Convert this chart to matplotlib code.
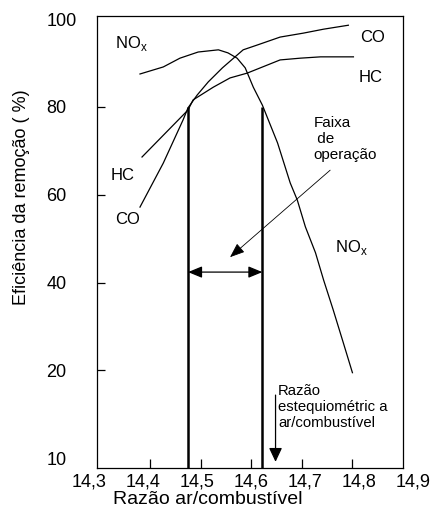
import matplotlib
matplotlib.use("Agg")
import matplotlib.pyplot as plt
from matplotlib.transforms import ScaledTranslation

plt.rcParams['font.family'] = ['Liberation Sans', 'DejaVu Sans']

# curves
nox_x = [14.380, 14.426, 14.459, 14.495, 14.535, 14.554, 14.572, 14.588, 14.604,
         14.622, 14.652, 14.677, 14.691, 14.707, 14.727, 14.743, 14.762, 14.782, 14.800]
nox_y = [87.5, 89.1, 91.1, 92.5, 93.0, 92.3, 91.1, 88.9, 84.5,
         80.4, 71.8, 62.7, 58.8, 52.7, 46.8, 40.6, 33.8, 26.3, 19.5]

co_x = [14.380, 14.426, 14.465, 14.475, 14.493, 14.515, 14.543, 14.568, 14.584,
        14.612, 14.657, 14.703, 14.743, 14.792]
co_y = [57.2, 67.2, 77.0, 79.8, 82.7, 85.7, 88.9, 91.4, 93.0,
        94.1, 95.9, 96.8, 97.7, 98.6]

hc_x = [14.384, 14.475, 14.485, 14.525, 14.558, 14.592, 14.657, 14.697, 14.737, 14.802]
hc_y = [68.6, 79.3, 81.6, 84.5, 86.6, 87.7, 90.7, 91.1, 91.4, 91.4]

# operating window limits and stoichiometric ratio
faixa_min = 14.475
faixa_max = 14.622
faixa_top = 80
faixa_arrow_y = 42.4
estequio = 14.648

x_ticks = [14.3, 14.4, 14.5, 14.6, 14.7, 14.8, 14.9]
x_labels = ['14,3', '14,4', '14,5', '14,6', '14,7', '14,8', '14,9']
# the axis is broken at the bottom: "10" sits just under the 20 step
y_ticks = [0, 20, 40, 60, 80, 100]
y_labels = ['10', '20', '40', '60', '80', '100']

fig = plt.figure(figsize=(4.3, 5.19), dpi=100)
ax = fig.add_axes([97/430, 51/519, 306/430, 452/519])

ax.plot(nox_x, nox_y, color='black', lw=0.9)
ax.plot(co_x, co_y, color='black', lw=0.9)
ax.plot(hc_x, hc_y, color='black', lw=0.9)

ax.vlines([faixa_min, faixa_max], -2.2, faixa_top, color='black', lw=1.8)

ax.annotate('', xy=(faixa_max, faixa_arrow_y), xytext=(faixa_min, faixa_arrow_y),
            arrowprops=dict(arrowstyle='<|-|>,head_length=0.85,head_width=0.35',
                            mutation_scale=10, color='black', lw=0.9,
                            shrinkA=0, shrinkB=0))
ax.annotate('', xy=(14.558, 45.8), xytext=(14.756, 65.6),
            arrowprops=dict(arrowstyle='-|>,head_length=0.9,head_width=0.35',
                            mutation_scale=10, color='black', lw=0.6,
                            shrinkA=0, shrinkB=0))
ax.annotate('', xy=(estequio, -0.8), xytext=(estequio, 14.4),
            arrowprops=dict(arrowstyle='-|>,head_length=0.85,head_width=0.4',
                            mutation_scale=10, color='black', lw=0.9,
                            shrinkA=0, shrinkB=0))

lab = dict(fontsize=12, va='center', ha='left')
ax.text(14.331, 94.5, 'NO$_\\mathregular{x}$', **lab)
ax.text(14.816, 95.9, 'CO', **lab)
ax.text(14.812, 86.8, 'HC', **lab)
ax.text(14.321, 64.5, 'HC', **lab)
ax.text(14.331, 54.3, 'CO', **lab)
ax.text(14.766, 47.9, 'NO$_\\mathregular{x}$', **lab)

ax.text(14.723, 72.7, 'Faixa\n de\noperação', fontsize=11, va='center', ha='left',
        linespacing=1.15)
ax.text(14.653, 11.7, 'Razão\nestequiométric a\nar/combustível', fontsize=10.7,
        va='center', ha='left', linespacing=1.15)

ax.set_xlim(14.295, 14.9)
ax.set_ylim(-2.2, 100.7)
ax.set_xticks(x_ticks)
ax.set_xticklabels(x_labels, fontsize=13)
ax.set_yticks(y_ticks)
ax.set_yticklabels(y_labels, fontsize=13, ha='left')
ax.tick_params(axis='x', direction='in', length=6.5, width=0.9, pad=4)
ax.tick_params(axis='y', direction='in', length=6, width=0.9, pad=36.5)
for t in [ax.xaxis.get_major_ticks()[0], ax.xaxis.get_major_ticks()[-1],
          ax.yaxis.get_major_ticks()[0], ax.yaxis.get_major_ticks()[-1]]:
    t.tick1line.set_visible(False)
# x labels in the original are spaced a bit wider than the ticks
for v, t in zip(x_ticks, ax.get_xticklabels()):
    dx = (v - 14.6) / 0.1 * 3.5 / 100
    t.set_transform(t.get_transform() + ScaledTranslation(dx, 0, fig.dpi_scale_trans))
for s in ax.spines.values():
    s.set_linewidth(0.9)

fig.text(208/430, 1 - 500/519, 'Razão ar/combustível', fontsize=14,
         ha='center', va='center')
fig.text(22/430, 1 - 197/519, 'Eficiência da remoção ( %)', fontsize=13,
         ha='center', va='center', rotation=90)

fig.savefig('out.png', dpi=100)
